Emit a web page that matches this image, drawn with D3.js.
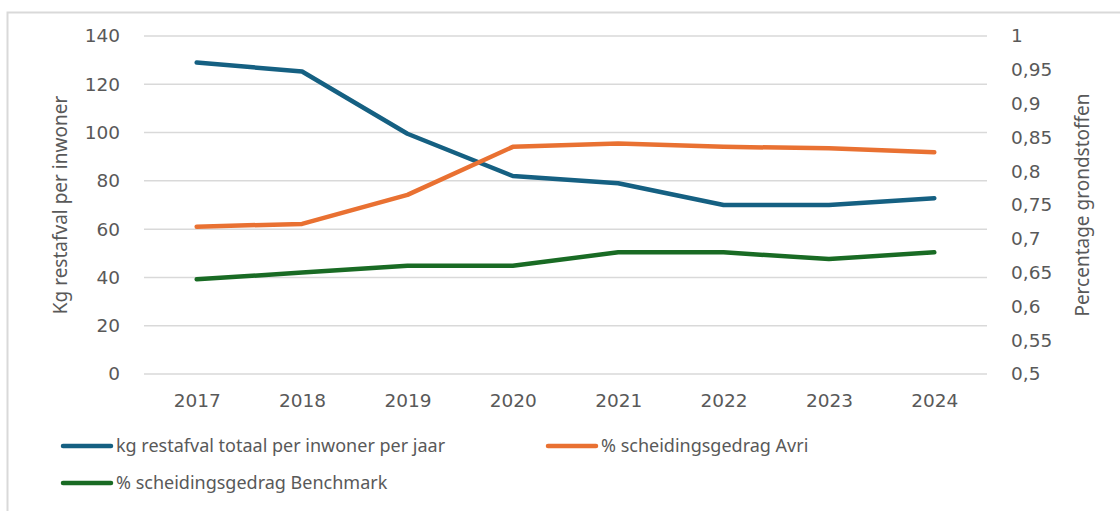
<!DOCTYPE html>
<html>
<head>
<meta charset="utf-8">
<script src="https://cdn.jsdelivr.net/npm/d3@7"></script>
<style>
  body { margin: 0; background: #fff; }
  svg { display: block; }
</style>
</head>
<body>
<div id="myChart"></div>
<script>
const years = ["2017", "2018", "2019", "2020", "2021", "2022", "2023", "2024"];
const kgRestafval = [129, 125.3, 99.5, 82, 79, 70, 70, 72.8];
const avri = [0.718, 0.722, 0.765, 0.836, 0.841, 0.836, 0.834, 0.828];
const benchmark = [0.64, 0.65, 0.66, 0.66, 0.68, 0.68, 0.67, 0.68];
const leftTicks = [0, 20, 40, 60, 80, 100, 120, 140];
const rightTicks = [0.5, 0.55, 0.6, 0.65, 0.7, 0.75, 0.8, 0.85, 0.9, 0.95, 1];

const margin = { top: 36, right: 133, bottom: 137, left: 144 };
const W = 1120, H = 511;
const width = W - margin.left - margin.right;
const height = H - margin.top - margin.bottom;

const svg = d3.select("#myChart").append("svg")
  .attr("width", W)
  .attr("height", H);

// outer chart border (only top/left visible in the crop)
svg.append("rect")
  .attr("x", 7.5).attr("y", 12.5)
  .attr("width", 1300).attr("height", 700)
  .attr("fill", "none")
  .attr("stroke", "#d9d9d9")
  .attr("stroke-width", 2);

const g = svg.append("g").attr("transform", `translate(${margin.left},${margin.top})`);

const x = d3.scalePoint().domain(years).range([0, width]).padding(0.5);
const yL = d3.scaleLinear().domain([0, 140]).range([height, 0]);
const yR = d3.scaleLinear().domain([0.5, 1]).range([height, 0]);

const axisFont = "'DejaVu Sans', sans-serif";
const axisSize = "18.5px";
const labelColor = "#595959";

// gridlines
g.append("g")
  .selectAll("line")
  .data(leftTicks)
  .join("line")
  .attr("x1", 0).attr("x2", width)
  .attr("y1", d => yL(d)).attr("y2", d => yL(d))
  .attr("stroke", "#d9d9d9")
  .attr("stroke-width", 1.5);

// left axis
const leftAxis = g.append("g")
  .call(d3.axisLeft(yL).tickValues(leftTicks).tickSize(0).tickPadding(24));
leftAxis.select(".domain").remove();
leftAxis.selectAll("text")
  .attr("fill", labelColor)
  .style("font-family", axisFont)
  .style("font-size", axisSize);

// right axis
const fmtComma = d => String(+d.toFixed(2)).replace(".", ",");
const rightAxis = g.append("g")
  .attr("transform", `translate(${width},0)`)
  .call(d3.axisRight(yR).tickValues(rightTicks).tickFormat(fmtComma).tickSize(0).tickPadding(24));
rightAxis.select(".domain").remove();
rightAxis.selectAll("text")
  .attr("fill", labelColor)
  .style("font-family", axisFont)
  .style("font-size", axisSize);

// x axis
const xAxis = g.append("g")
  .attr("transform", `translate(0,${height})`)
  .call(d3.axisBottom(x).tickSize(0).tickPadding(20));
xAxis.select(".domain").remove();
xAxis.selectAll("text")
  .attr("fill", labelColor)
  .style("font-family", axisFont)
  .style("font-size", axisSize);

// axis titles
const titleFont = "'Noto Sans', 'Open Sans', sans-serif";
svg.append("text")
  .attr("transform", `translate(67,${margin.top + height / 2}) rotate(-90)`)
  .attr("text-anchor", "middle")
  .attr("fill", labelColor)
  .style("font-family", titleFont)
  .style("font-size", "19px")
  .text("Kg restafval per inwoner");

svg.append("text")
  .attr("transform", `translate(1089,${margin.top + height / 2}) rotate(-90)`)
  .attr("text-anchor", "middle")
  .attr("fill", labelColor)
  .style("font-family", titleFont)
  .style("font-size", "19px")
  .text("Percentage grondstoffen");

const series = [
  { name: "kg restafval totaal per inwoner per jaar", values: kgRestafval, scale: yL, color: "#156082" },
  { name: "% scheidingsgedrag Avri", values: avri, scale: yR, color: "#E97132" },
  { name: "% scheidingsgedrag Benchmark", values: benchmark, scale: yR, color: "#196B24" },
];

series.forEach(s => {
  const line = d3.line()
    .x((d, i) => x(years[i]))
    .y(d => s.scale(d));
  g.append("path")
    .datum(s.values)
    .attr("d", line)
    .attr("fill", "none")
    .attr("stroke", s.color)
    .attr("stroke-width", 4.5)
    .attr("stroke-linejoin", "round")
    .attr("stroke-linecap", "round");
});

// legend
const legendPos = [
  { x: 63, y: 446 },
  { x: 548, y: 446 },
  { x: 63, y: 483 },
];
const legend = svg.selectAll(".legend")
  .data(series)
  .join("g")
  .attr("class", "legend")
  .attr("transform", (d, i) => `translate(${legendPos[i].x},${legendPos[i].y})`);

legend.append("line")
  .attr("x1", 0).attr("x2", 48)
  .attr("y1", 0).attr("y2", 0)
  .attr("stroke", d => d.color)
  .attr("stroke-width", 4.5)
  .attr("stroke-linecap", "round");

legend.append("text")
  .attr("x", 53)
  .attr("y", 0)
  .attr("dy", "0.35em")
  .attr("fill", labelColor)
  .style("font-family", titleFont)
  .style("font-size", "18px")
  .text(d => d.name);
</script>
</body>
</html>
